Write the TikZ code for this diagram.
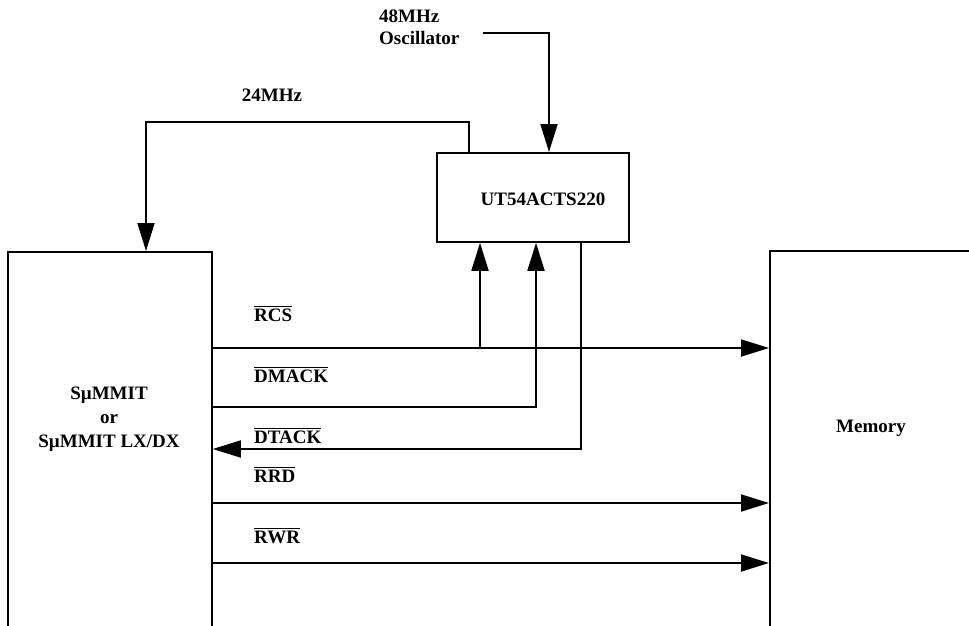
\documentclass[tikz,border=0pt]{standalone}
\usepackage{fontspec}
\setmainfont{Liberation Serif}
\usetikzlibrary{arrows.meta}
\newcommand{\ovl}[1]{\leavevmode\vbox{\hrule height 1.4pt\kern1.2pt\hbox{#1}}}
\tikzset{
  box/.style={draw, line width=1.8pt, inner sep=0pt, anchor=north west},
  txt/.style={inner sep=0pt, anchor=base},
  sig/.style={inner sep=0pt, anchor=base west},
  wire/.style={line width=1.8pt, -{Triangle[length=28pt,width=17pt]}}
}
\begin{document}
\begin{tikzpicture}[x=1pt,y=-1pt,font=\bfseries\fontsize{19}{23}\selectfont]
\useasboundingbox (0,0) rectangle (969,626);
\clip (0,0) rectangle (969,626);
% boxes
\node[box, minimum width=204pt, minimum height=450pt] (sum) at (7,251) {};
\node[box, minimum width=260pt, minimum height=450pt] (mem) at (769,250) {};
\node[box, minimum width=192pt, minimum height=89pt] (ut) at (436,152) {};
% box texts
\node[txt] (utl) at (543,205) {UT54ACTS220};
\node[txt] (s1) at (109,399) {SµMMIT};
\node[txt] (s2) at (109,423) {or};
\node[txt] (s3) at (109,447) {SµMMIT LX/DX};
\node[txt] (meml) at (871,432) {Memory};
% clock texts
\node[sig] (osc1) at (379,23) {48MHz};
\node[sig] (osc2) at (379,45) {Oscillator};
\node[txt] (f24) at (272,101) {24MHz};
% signal labels
\node[sig] (lrcs) at (254,321) {\ovl{RCS}};
\node[sig] (ldm) at (254,382) {\ovl{DMACK}};
\node[sig] (ldt) at (254,443) {\ovl{DTACK}};
\node[sig] (lrrd) at (254,482) {\ovl{RRD}};
\node[sig] (lrwr) at (254,543) {\ovl{RWR}};
% helper coordinates
\coordinate (oscend) at (483,33);
\coordinate (x549) at (549,0);
\coordinate (x469) at (469,0);
\coordinate (c24) at (146,122);
\coordinate (x480) at (480,0);
\coordinate (x536) at (536,0);
\coordinate (x581) at (581,0);
\coordinate (yrcs) at (0,348);
\coordinate (ydm) at (0,407);
\coordinate (ydt) at (0,449);
\coordinate (yrrd) at (0,503);
\coordinate (yrwr) at (0,563);
% connectors
\draw[wire] (oscend) -| (ut.north -| x549);
\draw[wire] (ut.north -| x469) |- (c24) -- (sum.north -| c24);
\draw[wire] (sum.east |- yrcs) -- (mem.west |- yrcs);
\draw[wire] (yrcs -| x480) -- (ut.south -| x480);
\draw[wire] (sum.east |- ydm) -| (ut.south -| x536);
\draw[wire] (ut.south -| x581) |- (sum.east |- ydt);
\draw[wire] (sum.east |- yrrd) -- (mem.west |- yrrd);
\draw[wire] (sum.east |- yrwr) -- (mem.west |- yrwr);
\end{tikzpicture}
\end{document}
